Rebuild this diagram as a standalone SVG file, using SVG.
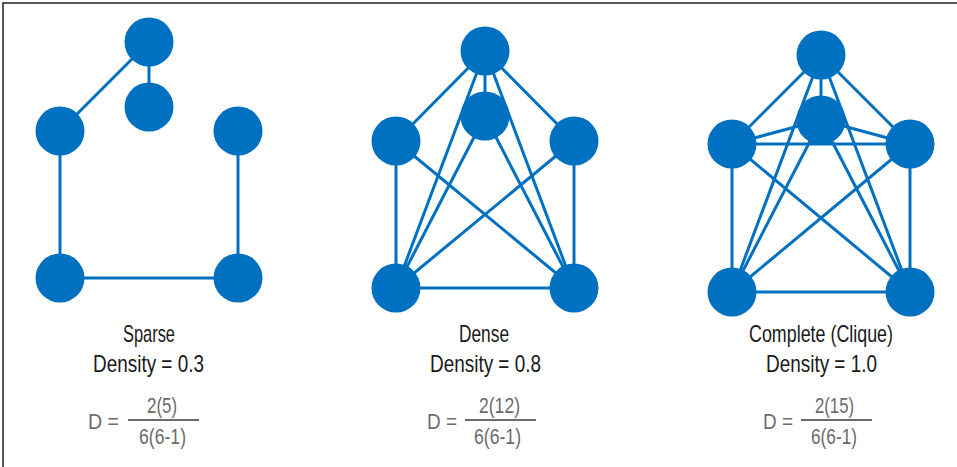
<svg xmlns="http://www.w3.org/2000/svg" width="957" height="467" viewBox="0 0 957 467">
<style>
.e{stroke:#0070C0;stroke-width:3;fill:none}
.n{fill:#0070C0}
.t{font-family:"Liberation Sans",Arial,sans-serif;font-size:24px;fill:#1a1a1a}
.g{font-family:"Liberation Sans",Arial,sans-serif;font-size:22px;fill:#6b6b6b}
.f{stroke:#6b6b6b;stroke-width:2}
</style>
<rect width="957" height="467" fill="#fff"/>
<path d="M3 467V3H957" stroke="#222" stroke-width="1.5" fill="none"/>
<g id="connectors">
<g id="sparse-edges">
<line class="e" x1="149" y1="42" x2="60" y2="131"/>
<line class="e" x1="149" y1="42" x2="149" y2="107"/>
<line class="e" x1="60" y1="131" x2="60" y2="278"/>
<line class="e" x1="238" y1="131" x2="238" y2="278"/>
<line class="e" x1="60" y1="278" x2="238" y2="278"/>
</g>
<g id="dense-edges">
<line class="e" x1="485" y1="51" x2="396" y2="141"/>
<line class="e" x1="485" y1="51" x2="485" y2="116"/>
<line class="e" x1="485" y1="51" x2="396" y2="288"/>
<line class="e" x1="485" y1="51" x2="574" y2="288"/>
<line class="e" x1="485" y1="51" x2="574" y2="141"/>
<line class="e" x1="485" y1="116" x2="396" y2="288"/>
<line class="e" x1="485" y1="116" x2="574" y2="288"/>
<line class="e" x1="396" y1="141" x2="396" y2="288"/>
<line class="e" x1="396" y1="141" x2="574" y2="288"/>
<line class="e" x1="574" y1="141" x2="396" y2="288"/>
<line class="e" x1="574" y1="141" x2="574" y2="288"/>
<line class="e" x1="396" y1="288" x2="574" y2="288"/>
</g>
<g id="complete-edges">
<line class="e" x1="821" y1="55" x2="821" y2="120"/>
<line class="e" x1="821" y1="55" x2="732" y2="144"/>
<line class="e" x1="821" y1="55" x2="910" y2="144"/>
<line class="e" x1="821" y1="55" x2="732" y2="292"/>
<line class="e" x1="821" y1="55" x2="910" y2="292"/>
<line class="e" x1="821" y1="120" x2="732" y2="144"/>
<line class="e" x1="821" y1="120" x2="910" y2="144"/>
<line class="e" x1="821" y1="120" x2="732" y2="292"/>
<line class="e" x1="821" y1="120" x2="910" y2="292"/>
<line class="e" x1="732" y1="144" x2="910" y2="144"/>
<line class="e" x1="732" y1="144" x2="732" y2="292"/>
<line class="e" x1="732" y1="144" x2="910" y2="292"/>
<line class="e" x1="910" y1="144" x2="732" y2="292"/>
<line class="e" x1="910" y1="144" x2="910" y2="292"/>
<line class="e" x1="732" y1="292" x2="910" y2="292"/>
</g>
</g>
<g id="s1"><circle class="n" cx="149" cy="42" r="24.5"/></g>
<g id="s2"><circle class="n" cx="149" cy="107" r="24.5"/></g>
<g id="s3"><circle class="n" cx="60" cy="131" r="24.5"/></g>
<g id="s4"><circle class="n" cx="238" cy="131" r="24.5"/></g>
<g id="s5"><circle class="n" cx="60" cy="278" r="24.5"/></g>
<g id="s6"><circle class="n" cx="238" cy="278" r="24.5"/></g>
<g id="d1"><circle class="n" cx="485" cy="51" r="24.5"/></g>
<g id="d2"><circle class="n" cx="485" cy="116" r="24.5"/></g>
<g id="d3"><circle class="n" cx="396" cy="141" r="24.5"/></g>
<g id="d4"><circle class="n" cx="574" cy="141" r="24.5"/></g>
<g id="d5"><circle class="n" cx="396" cy="288" r="24.5"/></g>
<g id="d6"><circle class="n" cx="574" cy="288" r="24.5"/></g>
<g id="c1"><circle class="n" cx="821" cy="55" r="24.5"/></g>
<g id="c2"><circle class="n" cx="821" cy="120" r="24.5"/></g>
<g id="c3"><circle class="n" cx="732" cy="144" r="24.5"/></g>
<g id="c4"><circle class="n" cx="910" cy="144" r="24.5"/></g>
<g id="c5"><circle class="n" cx="732" cy="292" r="24.5"/></g>
<g id="c6"><circle class="n" cx="910" cy="292" r="24.5"/></g>
<g id="sparse-label">
<text class="t" x="123" y="342" textLength="52" lengthAdjust="spacingAndGlyphs">Sparse</text>
<text class="t" x="93" y="372" textLength="111" lengthAdjust="spacingAndGlyphs">Density = 0.3</text>
<text class="g" x="88" y="429" textLength="31" lengthAdjust="spacingAndGlyphs">D =</text>
<line class="f" x1="128" y1="420" x2="199" y2="420"/>
<text class="g" x="147" y="413" textLength="30" lengthAdjust="spacingAndGlyphs">2(5)</text>
<text class="g" x="139" y="444" textLength="47" lengthAdjust="spacingAndGlyphs">6(6-1)</text>
</g>
<g id="dense-label">
<text class="t" x="459" y="342" textLength="50" lengthAdjust="spacingAndGlyphs">Dense</text>
<text class="t" x="430" y="372" textLength="111" lengthAdjust="spacingAndGlyphs">Density = 0.8</text>
<text class="g" x="427" y="429" textLength="30" lengthAdjust="spacingAndGlyphs">D =</text>
<line class="f" x1="465" y1="420" x2="536" y2="420"/>
<text class="g" x="479" y="413" textLength="41" lengthAdjust="spacingAndGlyphs">2(12)</text>
<text class="g" x="474" y="444" textLength="47" lengthAdjust="spacingAndGlyphs">6(6-1)</text>
</g>
<g id="complete-label">
<text class="t" x="749" y="342" textLength="144" lengthAdjust="spacingAndGlyphs">Complete (Clique)</text>
<text class="t" x="766" y="372" textLength="111" lengthAdjust="spacingAndGlyphs">Density = 1.0</text>
<text class="g" x="763" y="429" textLength="30" lengthAdjust="spacingAndGlyphs">D =</text>
<line class="f" x1="801" y1="420" x2="872" y2="420"/>
<text class="g" x="815" y="413" textLength="39" lengthAdjust="spacingAndGlyphs">2(15)</text>
<text class="g" x="811" y="444" textLength="46" lengthAdjust="spacingAndGlyphs">6(6-1)</text>
</g>
</svg>
